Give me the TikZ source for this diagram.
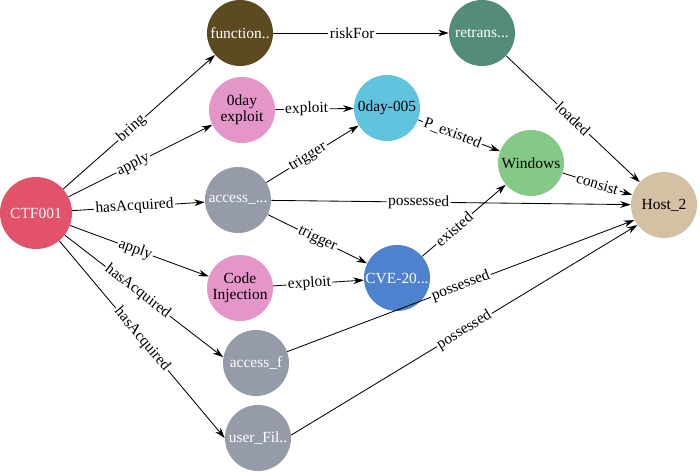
\documentclass[tikz,border=0pt]{standalone}
\usepackage{fontspec}
\setmainfont{Liberation Serif}
\usepackage{xcolor}
\usetikzlibrary{arrows.meta}

\definecolor{ctfred}{RGB}{226,82,106}
\definecolor{funcbrown}{RGB}{92,74,32}
\definecolor{retransgreen}{RGB}{84,140,122}
\definecolor{exploitpink}{RGB}{228,150,200}
\definecolor{zerocyan}{RGB}{96,196,222}
\definecolor{winsgreen}{RGB}{132,202,134}
\definecolor{accgray}{RGB}{150,155,170}
\definecolor{hosttan}{RGB}{212,192,162}
\definecolor{cveblue}{RGB}{76,130,206}

\begin{document}
\begin{tikzpicture}[x=0.025cm,y=-0.025cm,>={Stealth[length=7.5pt,width=4.8pt]},
  ent/.style={circle,minimum size=1.65cm,inner sep=0pt,align=center,
    font=\fontsize{11}{11.5}\selectfont},
  rel/.style={->,line width=0.6pt},
  lab/.style={sloped,fill=white,inner sep=1pt,font=\fontsize{11}{11.5}\selectfont}]
  \useasboundingbox (0,0) rectangle (700,472);

  % Attacker
  \node[ent,fill=ctfred,text=white,minimum size=1.8cm] (ctf) at (36,213) {CTF001};

  % Middle column
  \node[ent,fill=funcbrown,text=white] (func) at (240,33) {function..};
  \node[ent,fill=exploitpink] (zeroexp) at (242,110) {0day\\exploit};
  \node[ent,fill=accgray,text=white] (accA) at (238,200) {access\_...};
  \node[ent,fill=exploitpink] (codeinj) at (240,288) {Code\\Injection};
  \node[ent,fill=accgray,text=white] (accF) at (256,363) {access\_f};
  \node[ent,fill=accgray,text=white] (userfil) at (258,438) {user\_Fil..};

  % Vulnerabilities and system
  \node[ent,fill=retransgreen,text=white] (retrans) at (482,33) {retrans...};
  \node[ent,fill=zerocyan] (zero) at (387,108) {0day-005};
  \node[ent,fill=cveblue,text=white] (cve) at (397,278) {CVE-20...};
  \node[ent,fill=winsgreen] (wins) at (531,163) {Windows};
  \node[ent,fill=hosttan] (host) at (664,205) {Host\_2};

  % Edges out of CTF001
  \draw[rel] (ctf) -- (func) node[lab,pos=0.45] {bring};
  \draw[rel] (ctf) -- (zeroexp) node[lab,pos=0.45] {apply};
  \draw[rel] (ctf) -- (accA) node[lab,pos=0.47] {hasAcquired};
  \draw[rel] (ctf) -- (codeinj) node[lab,pos=0.47] {apply};
  \draw[rel] (ctf) -- (accF.170) node[lab,pos=0.46] {hasAcquired};
  \draw[rel] (ctf) -- (userfil.180) node[lab,midway] {hasAcquired};

  % Exploits and triggers
  \draw[rel] (func) -- (retrans) node[lab,pos=0.45] {riskFor};
  \draw[rel] (zeroexp) -- (zero) node[lab,pos=0.4] {exploit};
  \draw[rel] (accA) -- (zero) node[lab,pos=0.45] {trigger};
  \draw[rel] (accA) -- (cve) node[lab,midway] {trigger};
  \draw[rel] (codeinj) -- (cve) node[lab,pos=0.4] {exploit};
  \draw[rel] (zero) -- (wins) node[lab,pos=0.42] {P\_existed};
  \draw[rel] (cve) -- (wins) node[lab,pos=0.38] {existed};

  % Into Host_2
  \draw[rel] (retrans) -- (host) node[lab,midway] {loaded};
  \draw[rel] (wins) -- (host) node[lab,midway] {consist};
  \draw[rel] (accA) -- (host) node[lab,pos=0.41] {possessed};
  \draw[rel] (accF.20) -- (host.207) node[lab,midway] {possessed};
  \draw[rel] (userfil.5) -- (host.217) node[lab,midway] {possessed};

\end{tikzpicture}
\end{document}
